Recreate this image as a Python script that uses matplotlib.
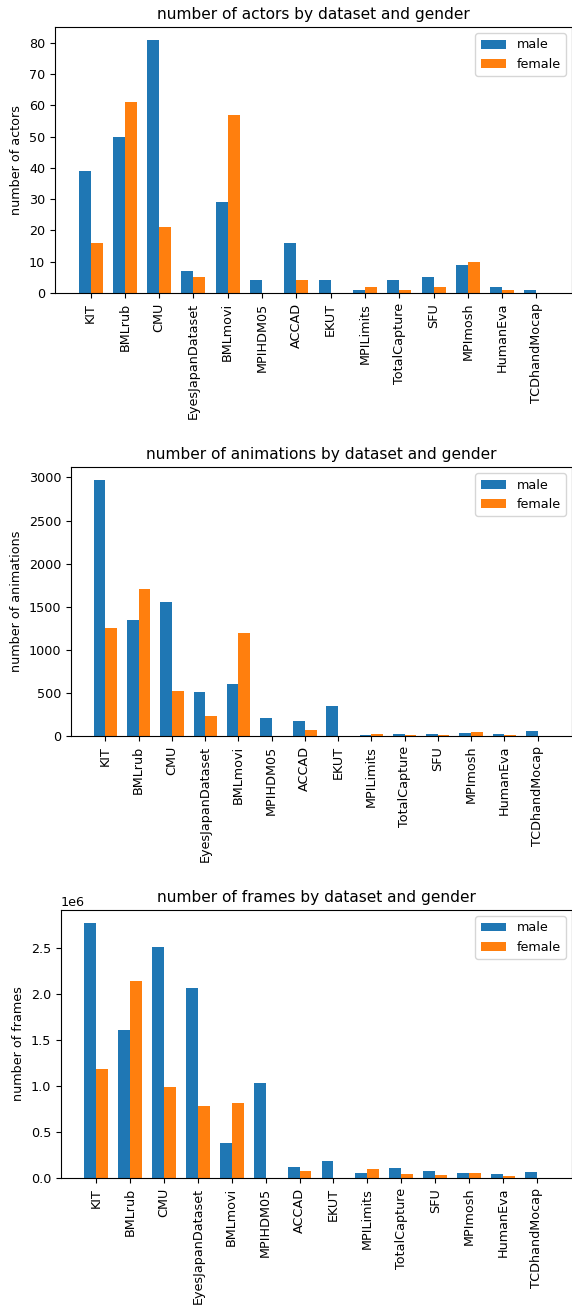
import numpy as np
import matplotlib
matplotlib.use("Agg")
from matplotlib import pyplot as plt

datasets = ["KIT", "BMLrub", "CMU", "EyesJapanDataset", "BMLmovi", "MPIHDM05",
            "ACCAD", "EKUT", "MPILimits", "TotalCapture", "SFU", "MPImosh",
            "HumanEva", "TCDhandMocap"]

actors_male = [39, 50, 81, 7, 29, 4, 16, 4, 1, 4, 5, 9, 2, 1]
actors_female = [16, 61, 21, 5, 57, 0, 4, 0, 2, 1, 2, 10, 1, 0]

anims_male = [2973, 1349, 1555, 509, 602, 210, 175, 350, 12, 27, 27, 35, 19, 58]
anims_female = [1255, 1706, 521, 233, 1193, 0, 70, 0, 27, 12, 16, 43, 12, 0]

frames_male = [2780000, 1607000, 2515000, 2066000, 386000, 1035000, 120000,
               186000, 58000, 109000, 77000, 58000, 44000, 62000]
frames_female = [1184000, 2150000, 988000, 787000, 816000, 0, 77000, 0,
                 98000, 47000, 36000, 58000, 22000, 0]

# the reference was drawn a bit smaller than the default text size
plt.rcParams["font.size"] = 9.2

W, H = 572, 1306
fig = plt.figure(figsize=(W / 100, H / 100), dpi=100)


def add_ax(left, top, right, bottom):
    return fig.add_axes([left / W, 1 - bottom / H, (right - left) / W, (bottom - top) / H])


def grouped_bars(ax, male, female, what):
    x = np.arange(len(datasets))
    width = 0.35
    ax.bar(x - width / 2, male, width, label="male")
    ax.bar(x + width / 2, female, width, label="female")
    ax.set_title("number of " + what + " by dataset and gender")
    ax.set_ylabel("number of " + what)
    ax.set_xticks(x)
    ax.set_xticklabels(datasets, rotation=90)
    ax.legend(loc="upper right")


ax1 = add_ax(55, 27, 572, 293)
grouped_bars(ax1, actors_male, actors_female, "actors")

ax2 = add_ax(71, 467, 572, 736)
grouped_bars(ax2, anims_male, anims_female, "animations")

ax3 = add_ax(61, 910, 572, 1178)
grouped_bars(ax3, frames_male, frames_female, "frames")

fig.savefig("out.png", dpi=100)
